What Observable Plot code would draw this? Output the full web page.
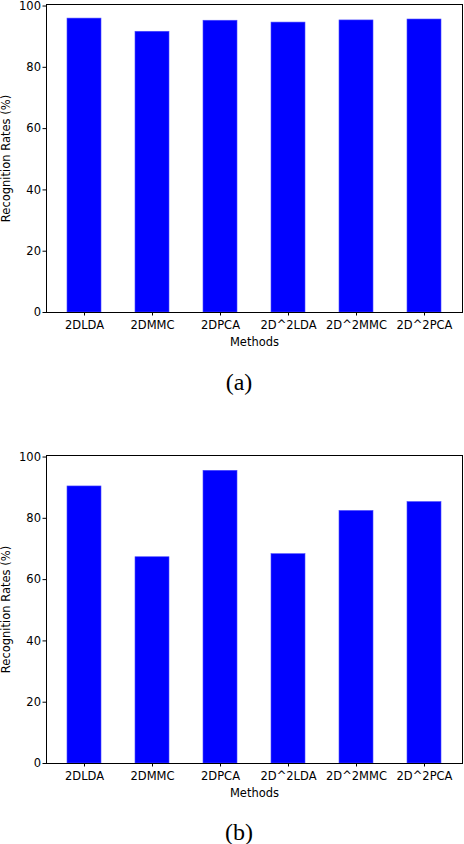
<!DOCTYPE html>
<html>
<head>
<meta charset="utf-8">
<script src="https://cdn.jsdelivr.net/npm/d3@7"></script>
<script src="https://cdn.jsdelivr.net/npm/@observablehq/plot@0.6"></script>
<style>
  html, body { margin: 0; padding: 0; background: #fff; }
  body { width: 464px; height: 844px; position: relative; overflow: hidden; }
  .chart { position: absolute; left: 0; }
  .cap { position: absolute; left: 0; width: 464px; text-align: center; font-family: "Liberation Serif", "DejaVu Serif", serif; font-size: 24px; color: #000; line-height: 1; }
</style>
</head>
<body>
<div id="a" class="chart" style="top:0px"></div>
<div class="cap" style="top:370px; left:7px">(a)</div>
<div id="b" class="chart" style="top:450px"></div>
<div class="cap" style="top:820px; left:7px">(b)</div>
<script>
const methods = ["2DLDA", "2DMMC", "2DPCA", "2D^2LDA", "2D^2MMC", "2D^2PCA"];
const ratesA = [95.9, 91.6, 95.2, 94.6, 95.3, 95.6];
const ratesB = [90.4, 67.3, 95.5, 68.3, 82.4, 85.3];
const yTicks = [0, 20, 40, 60, 80, 100];
const xLabel = "Methods";
const yLabel = "Recognition Rates (%)";

function makeChart(rates, marginTop) {
  const data = methods.map((m, i) => ({method: m, rate: rates[i]}));
  const plotH = 308;
  const marginBottom = 38;
  return Plot.plot({
    width: 464,
    height: marginTop + plotH + marginBottom,
    marginTop,
    marginBottom,
    marginLeft: 46,
    marginRight: 2,
    style: {fontFamily: "'DejaVu Sans', sans-serif", fontSize: "11.5px", color: "#000", background: "#fff"},
    x: {type: "band", domain: methods, paddingInner: 0.5, paddingOuter: 0.27},
    y: {domain: [0, 100.5]},
    marks: [
      Plot.barY(data, {x: "method", y: "rate", fill: "#0000ff", stroke: "#4a4aff", strokeWidth: 0.6}),
      Plot.axisX({tickSize: 3.5, tickPadding: 5, label: xLabel, labelAnchor: "center", labelOffset: 33, stroke: "#000"}),
      Plot.axisY({ticks: yTicks, tickSize: 3.5, tickPadding: 2, label: yLabel, labelAnchor: "center", labelOffset: 45, labelArrow: "none", stroke: "#000"}),
      Plot.frame({stroke: "#000", strokeWidth: 1})
    ]
  });
}

document.getElementById("a").appendChild(makeChart(ratesA, 4));
document.getElementById("b").appendChild(makeChart(ratesB, 5));
</script>
</body>
</html>
